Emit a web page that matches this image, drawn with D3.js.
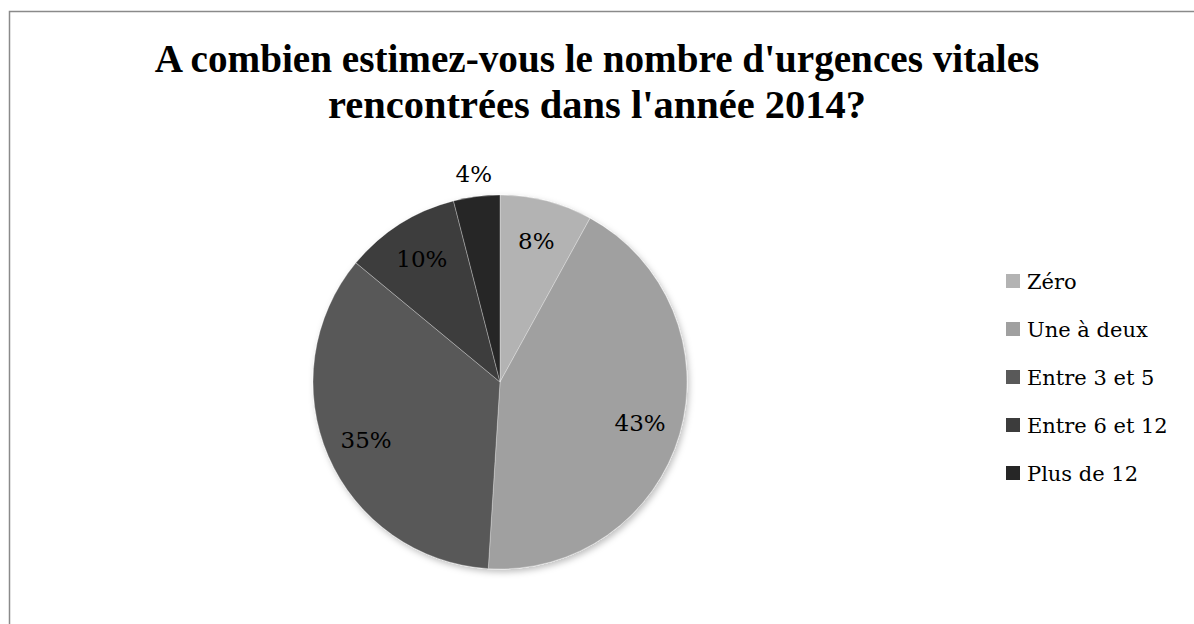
<!DOCTYPE html>
<meta charset="utf-8">
<script src="https://cdn.jsdelivr.net/npm/d3@7"></script>
<style>
body { margin: 0; background: #fff; }
text { font-family: "DejaVu Serif", serif; fill: #000; }
</style>
<body>
<script>

// data
var categories = ["Zéro", "Une à deux", "Entre 3 et 5", "Entre 6 et 12", "Plus de 12"];
var values = [8, 43, 35, 10, 4];
var colours = ["#b3b3b3", "#a0a0a0", "#595959", "#3c3c3c", "#262626"];
var titleLines = ["A combien estimez-vous le nombre d'urgences vitales", "rencontrées dans l'année 2014?"];

var width = 1194,
    height = 624;

var svg = d3.select("body").append("svg")
    .attr("width", width)
    .attr("height", height);

var defs = svg.append("defs");
var shadow = defs.append("filter").attr("id", "shadow")
    .attr("x", "-10%").attr("y", "-10%").attr("width", "130%").attr("height", "130%");
shadow.append("feDropShadow")
    .attr("dx", 2).attr("dy", 3).attr("stdDeviation", 3)
    .attr("flood-color", "#000").attr("flood-opacity", 0.25);

// outer frame (runs off the right and bottom of the picture)
svg.append("rect")
    .attr("x", 9.5).attr("y", 11.5)
    .attr("width", 1300).attr("height", 700)
    .attr("fill", "none")
    .attr("stroke", "#8a8a8a")
    .attr("stroke-width", 1.5);

// title, sized so each line spans the same width as in the original
var titleWidths = [885, 538];
svg.append("g").selectAll("text")
    .data(titleLines)
    .enter().append("text")
    .attr("x", 597)
    .attr("y", function(d, i) { return 72 + i * 46; })
    .attr("text-anchor", "middle")
    .style("font-family", "'Liberation Serif', serif")
    .style("font-weight", "bold")
    .style("font-size", "34px")
    .each(function(d, i) {
      var t = d3.select(this).text(d);
      var w = this.getComputedTextLength();
      t.style("font-size", (34 * titleWidths[i] / w) + "px");
    });

// pie
var cx = 500, cy = 382, r = 187;

var pie = d3.pie().sort(null).value(function(d) { return d; });
var arcs = pie(values);

var arc = d3.arc().innerRadius(0).outerRadius(r);
var labelArc = d3.arc().innerRadius(r * 0.78).outerRadius(r * 0.78);
var outerArc = d3.arc().innerRadius(r * 1.12).outerRadius(r * 1.12);

var g = svg.append("g").attr("transform", "translate(" + cx + "," + cy + ")");

g.append("g").attr("filter", "url(#shadow)")
  .selectAll("path")
  .data(arcs)
  .enter().append("path")
  .attr("d", arc)
  .attr("fill", function(d, i) { return colours[i]; })
  .attr("stroke", "#ffffff")
  .attr("stroke-opacity", 0.5)
  .attr("stroke-width", 0.6);

g.append("g").selectAll("text")
  .data(arcs)
  .enter().append("text")
  .attr("transform", function(d) {
    var c = d.value < 5 ? outerArc.centroid(d) : labelArc.centroid(d);
    return "translate(" + c[0] + "," + c[1] + ")";
  })
  .attr("text-anchor", "middle")
  .attr("dy", "0.36em")
  .style("font-size", "23px")
  .text(function(d) { return d.value + "%"; });

// legend
var legend = svg.append("g").selectAll("g")
    .data(categories)
    .enter().append("g")
    .attr("transform", function(d, i) { return "translate(1006," + (281 + i * 48) + ")"; });

legend.append("rect")
    .attr("x", 0).attr("y", -7)
    .attr("width", 14).attr("height", 14)
    .attr("fill", function(d, i) { return colours[i]; });

legend.append("text")
    .attr("x", 21)
    .attr("dy", "0.36em")
    .style("font-size", "21px")
    .text(function(d) { return d; });

</script>
</body>
